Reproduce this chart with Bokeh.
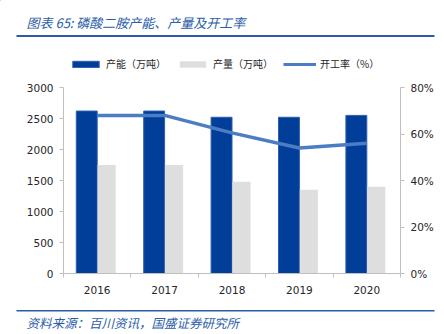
from bokeh.plotting import figure
from bokeh.layouts import column
from bokeh.models import (Range1d, LinearAxis, FixedTicker, NumeralTickFormatter,
                          ColumnDataSource, Legend, LegendItem, Label, BoxAnnotation,
                          CustomJSTickFormatter)
from bokeh.transform import dodge
from bokeh.embed import file_html
from bokeh.resources import INLINE

years = ["2016", "2017", "2018", "2019", "2020"]
capacity = [2620, 2620, 2520, 2520, 2550]   # 产能（万吨）
output = [1750, 1750, 1480, 1350, 1400]     # 产量（万吨）
rate = [0.68, 0.68, 0.605, 0.54, 0.56]      # 开工率
left_ticks = [0, 500, 1000, 1500, 2000, 2500, 3000]
right_ticks = [0, 0.2, 0.4, 0.6, 0.8]

xpos = [i + 0.5 for i in range(len(years))]
src = ColumnDataSource(dict(x=xpos, year=years, cap=capacity, out=output, rate=rate))

W = 444
TOP_H, MAIN_H, BOT_H = 80, 220, 34

AXC = "#BFBFBF"
TXT = "#262626"
NUMFONT = "DejaVu Sans"
CJK = "Noto Sans CJK SC"
BLUE = "#2B5CA8"
CAP_C, OUT_C, RATE_C = "#003E99", "#DEDEDE", "#4A7DC3"


def strip(fig):
    fig.outline_line_color = None
    fig.grid.grid_line_color = None
    fig.background_fill_color = "white"
    fig.border_fill_color = "white"
    fig.frame_align = False


# ---------- header: title, rule, legend ----------
top = figure(width=W, height=TOP_H, output_backend="svg", toolbar_location=None,
             x_range=Range1d(0, W), y_range=Range1d(TOP_H, 0),
             x_axis_location=None, y_axis_location=None,
             min_border=0, min_border_left=0, min_border_right=0,
             min_border_top=0, min_border_bottom=0)
strip(top)
top.add_layout(Label(x=26, y=22, text="图表 65:  磷酸二胺产能、产量及开工率",
                     text_font=CJK, text_font_style="italic", text_font_size="13px",
                     text_color=BLUE, text_baseline="middle"))
top.add_layout(BoxAnnotation(left=16, right=434, top=34.5, bottom=36.5,
                             fill_color=BLUE, fill_alpha=1, line_color=None))
# legend keys: off-range stand-ins carrying the series styles
d_cap = top.vbar(x=[-999], top=[-999], width=1, fill_color=CAP_C, line_color="#2F5DAE")
d_out = top.vbar(x=[-999], top=[-999], width=1, fill_color=OUT_C, line_color=None)
d_rate = top.line(x=[-999, -998], y=[-999, -999], line_color=RATE_C, line_width=3)
legend = Legend(items=[LegendItem(label="产能（万吨）", renderers=[d_cap]),
                       LegendItem(label="产量（万吨）", renderers=[d_out]),
                       LegendItem(label="开工率（%）", renderers=[d_rate])],
                orientation="horizontal", location=(69, TOP_H - 71),
                glyph_width=33, glyph_height=8, spacing=10, padding=0, margin=0,
                label_text_font=CJK, label_text_font_size="10px",
                label_text_color=TXT, label_standoff=4, label_height=12,
                border_line_color=None, background_fill_alpha=0)
top.add_layout(legend, "center")

# ---------- main chart ----------
p = figure(width=W, height=MAIN_H, output_backend="svg", toolbar_location=None,
           x_range=Range1d(0, len(years)), y_range=Range1d(0, 3000),
           min_border_left=63, min_border_right=44, min_border_top=7, min_border_bottom=27)
strip(p)
p.extra_y_ranges = {"pct": Range1d(0, 0.8)}

p.vbar(x=dodge("x", -0.155, range=p.x_range), top="cap", width=0.31, source=src,
       fill_color=CAP_C, line_color="#2F5DAE", line_width=1)
p.vbar(x=dodge("x", 0.14, range=p.x_range), top="out", width=0.27, source=src,
       fill_color=OUT_C, line_color=None)
p.line(x="x", y="rate", source=src, y_range_name="pct",
       line_color=RATE_C, line_width=3.5)

xa = p.xaxis[0]
xa.ticker = FixedTicker(ticks=xpos, minor_ticks=list(range(len(years) + 1)))
xa.formatter = CustomJSTickFormatter(args=dict(labels=years), code="return labels[index];")
xa.major_tick_out = 0
xa.major_tick_in = 0
xa.minor_tick_out = 4
xa.minor_tick_in = 0
xa.minor_tick_line_color = AXC
xa.axis_line_color = AXC
xa.major_label_text_font = NUMFONT
xa.major_label_text_font_size = "10.5px"
xa.major_label_text_color = TXT
xa.major_label_standoff = 8

ya = p.yaxis[0]
ya.ticker = FixedTicker(ticks=left_ticks)
ya.major_tick_out = 4
ya.major_tick_in = 0
ya.minor_tick_out = 0
ya.minor_tick_in = 0
ya.axis_line_color = AXC
ya.major_tick_line_color = AXC
ya.major_label_text_font = NUMFONT
ya.major_label_text_font_size = "10.5px"
ya.major_label_text_color = TXT
ya.major_label_standoff = 6

ra = LinearAxis(y_range_name="pct", ticker=FixedTicker(ticks=right_ticks),
                formatter=NumeralTickFormatter(format="0%"))
ra.major_tick_out = 4
ra.major_tick_in = 0
ra.minor_tick_out = 0
ra.minor_tick_in = 0
ra.axis_line_color = AXC
ra.major_tick_line_color = AXC
ra.major_label_text_font = NUMFONT
ra.major_label_text_font_size = "10.5px"
ra.major_label_text_color = TXT
ra.major_label_standoff = 6
p.add_layout(ra, "right")

# ---------- footer: rule and source ----------
bot = figure(width=W, height=BOT_H, output_backend="svg", toolbar_location=None,
             x_range=Range1d(0, W), y_range=Range1d(BOT_H, 0),
             x_axis_location=None, y_axis_location=None,
             min_border=0, min_border_left=0, min_border_right=0,
             min_border_top=0, min_border_bottom=0)
strip(bot)
bot.add_layout(BoxAnnotation(left=16, right=434, top=9.5, bottom=11,
                             fill_color=BLUE, fill_alpha=1, line_color=None))
bot.add_layout(Label(x=26, y=22, text="资料来源：百川资讯，国盛证券研究所",
                     text_font=CJK, text_font_style="italic", text_font_size="12.5px",
                     text_color=BLUE, text_baseline="middle"))

layout = column(top, p, bot, spacing=0)
open("out.html", "w").write(file_html(layout, INLINE))
